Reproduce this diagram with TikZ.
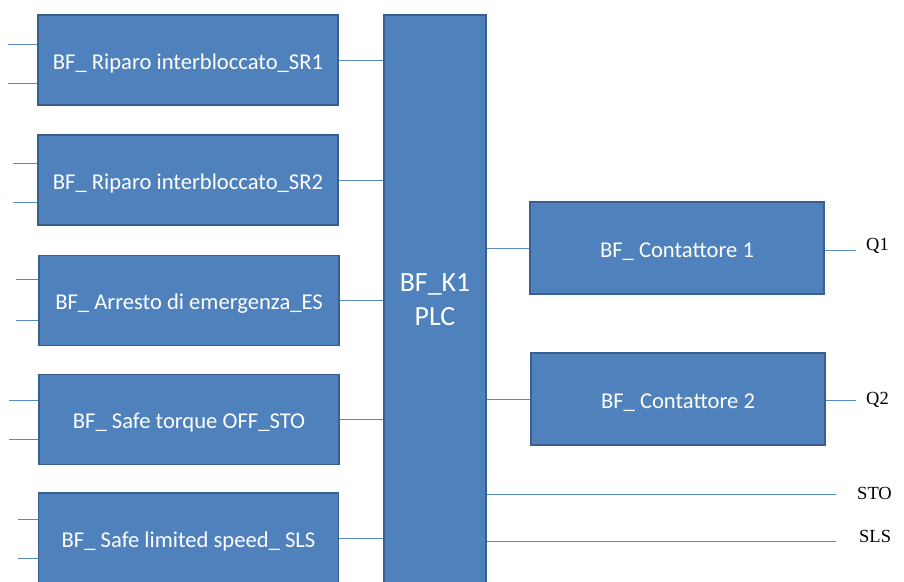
\documentclass[tikz,border=0pt]{standalone}
\usepackage{fontspec}
\setmainfont{Carlito}
\newfontfamily\lblfont{Liberation Serif}
\definecolor{boxfill}{HTML}{4F81BD}
\definecolor{boxedge}{HTML}{3A5F8C}
\definecolor{wire}{HTML}{5B8BC6}
\begin{document}
\begin{tikzpicture}[x=1pt,y=-1pt,
  blk/.style={draw=boxedge,line width=1.6pt,fill=boxfill,text=white,inner sep=0pt,
    font=\fontsize{22.6}{26}\selectfont,text height=20pt,text depth=2pt,
    minimum width=300pt,minimum height=90pt},
  conbox/.style={blk,minimum width=294pt,minimum height=92pt},
  plcbox/.style={draw=boxedge,line width=1.6pt,fill=boxfill,text=white,inner sep=0pt,
    font=\fontsize{27.8}{34}\selectfont,align=center,minimum width=102pt,minimum height=570pt},
  wireline/.style={draw=wire,line width=1pt},
  sig/.style={font=\lblfont\fontsize{18.5}{20}\selectfont,inner sep=0pt,anchor=west}]
\useasboundingbox (0,0) rectangle (904,581);
\clip (0,0) rectangle (904,581);
% PLC
\node[plcbox] (plc) at (435,300) {BF\_K1\\PLC};
% Input blocks
\node[blk] (b1) at (188,60) {BF\_ Riparo interbloccato\_SR1};
\node[blk] (b2) at (188,180) {BF\_ Riparo interbloccato\_SR2};
\node[blk] (b3) at (189,300.5) {BF\_ Arresto di emergenza\_ES};
\node[blk] (b4) at (189,419.5) {BF\_ Safe torque OFF\_STO};
\node[blk] (b5) at (188.5,538) {BF\_ Safe limited speed\_ SLS};
% Output blocks
\node[conbox] (c1) at (677,248) {BF\_ Contattore 1};
\node[conbox] (c2) at (678,399) {BF\_ Contattore 2};
% free ends of input stubs
\coordinate (i1a) at (8,44);  \coordinate (i1b) at (8,83);
\coordinate (i2a) at (13,163); \coordinate (i2b) at (13,202);
\coordinate (i3a) at (16,279); \coordinate (i3b) at (16,320);
\coordinate (i4a) at (9,400);  \coordinate (i4b) at (9,439);
\coordinate (i5a) at (18,519); \coordinate (i5b) at (18,558);
\foreach \b/\s in {b1/i1,b2/i2,b3/i3,b4/i4,b5/i5}{
  \draw[wireline] (\s a) -- (\s a -| \b.west);
  \draw[wireline] (\s b) -- (\s b -| \b.west);
  \draw[wireline] (\b.east) -- (\b.east -| plc.west);
}
% PLC to contactors
\draw[wireline] (c1.west -| plc.east) -- (c1.west);
\draw[wireline] (c2.west -| plc.east) -- (c2.west);
% outputs
\node[sig] (q1) at (866,246) {Q1};
\node[sig] (q2) at (866,400) {Q2};
\node[sig] (sto) at (857,493) {STO};
\node[sig] (sls) at (859,536) {SLS};
\coordinate (q1e) at (856,250);
\coordinate (q2e) at (856,400);
\draw[wireline] (c1.east |- q1e) -- (q1e);
\draw[wireline] (c2.east |- q2e) -- (q2e);
\coordinate (stoe) at (836,494);
\coordinate (slse) at (836,541);
\draw[wireline] (stoe -| plc.east) -- (stoe);
\draw[wireline] (slse -| plc.east) -- (slse);
\end{tikzpicture}
\end{document}
